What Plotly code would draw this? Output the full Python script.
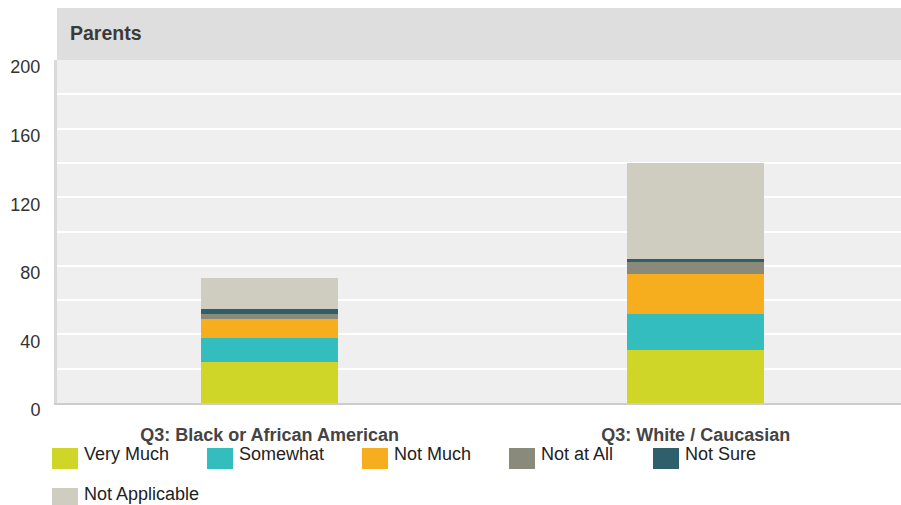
import plotly.graph_objects as go

categories = ["Q3: Black or African American", "Q3: White / Caucasian"]
series_names = ["Very Much", "Somewhat", "Not Much", "Not at All", "Not Sure", "Not Applicable"]
very_much = [24, 31]
somewhat = [14, 21]
not_much = [11, 23]
not_at_all = [3, 7]
not_sure = [3, 2]
not_applicable = [18, 56]
colors = ["#cfd628", "#33bdbf", "#f7ae1e", "#898a7a", "#2e5f6b", "#cfcdbf"]
y_ticks = [0, 40, 80, 120, 160, 200]

values = [very_much, somewhat, not_much, not_at_all, not_sure, not_applicable]
FONT = "Liberation Sans, Arial, sans-serif"

fig = go.Figure()
for name, vals, col in zip(series_names, values, colors):
    fig.add_trace(go.Bar(x=categories, y=vals, name=name, marker_color=col,
                         marker_line_width=0, width=0.322, showlegend=False))

# body margin removed by post_script -> figure at page (0, 0)
OFF = 0
W, H = 901, 505
ml, mr, mt, mb = 57, 0, 60, 102
ph = H - mt - mb
pw = W - ml - mr

def px_x(x):  # page x -> paper
    return (x - OFF - ml) / pw

def px_y(y):  # page y -> paper
    return (OFF + H - mb - y) / ph

shapes = [
    dict(type="rect", xref="paper", yref="paper", x0=0, x1=1, y0=1, y1=px_y(8),
         fillcolor="#dedede", line_width=0, layer="below"),
]
annotations = [
    dict(text="<b>Parents</b>", xref="paper", yref="paper", x=px_x(68), y=px_y(33),
         xanchor="left", yanchor="middle", showarrow=False,
         font=dict(size=19.5, color="#3a3a3a", family=FONT)),
]

legend_pos = [(52, 458), (207, 458), (362, 458), (509, 458), (653, 458), (52, 498)]
for (lx, ly), name, col in zip(legend_pos, series_names, colors):
    shapes.append(dict(type="rect", xref="paper", yref="paper",
                       x0=px_x(lx), x1=px_x(lx + 26), y0=px_y(ly - 10), y1=px_y(ly + 11),
                       fillcolor=col, line_width=0))
    annotations.append(dict(text=name, xref="paper", yref="paper", x=px_x(lx + 30), y=px_y(ly - 4),
                            xanchor="left", yanchor="middle", showarrow=False,
                            font=dict(size=18, color="#222222", family=FONT)))

fig.update_layout(
    barmode="stack",
    width=W, height=H,
    margin=dict(l=ml, r=mr, t=mt, b=mb),
    paper_bgcolor="white",
    plot_bgcolor="#efefef",
    font=dict(family=FONT, color="#333333"),
    shapes=shapes,
    annotations=annotations,
)
fig.update_yaxes(range=[0, 200], tickvals=y_ticks, ticktext=[str(v) for v in y_ticks],
                 showgrid=True, gridcolor="white", gridwidth=2,
                 minor=dict(dtick=20, tick0=0, showgrid=True, gridcolor="white", gridwidth=2),
                 tickfont=dict(size=18, color="#333333"), ticklabelstandoff=10,
                 ticklabelshift=7,
                 showline=True, linecolor="#d9d9d9", linewidth=3, zeroline=False)
fig.update_xaxes(range=[-0.499, 1.482],
                 tickfont=dict(size=18, color="#444444"),
                 tickvals=categories, ticktext=["<b>" + c + "</b>" for c in categories],
                 showline=True, linecolor="#cccccc", linewidth=2,
                 ticklabelstandoff=14, showgrid=False)

fig.write_html(
    "out.html",
    config={"displayModeBar": False},
    post_script=("document.body.style.margin='0';"
                 "document.documentElement.style.overflow='hidden';"
                 "document.body.style.overflow='hidden';"),
)
